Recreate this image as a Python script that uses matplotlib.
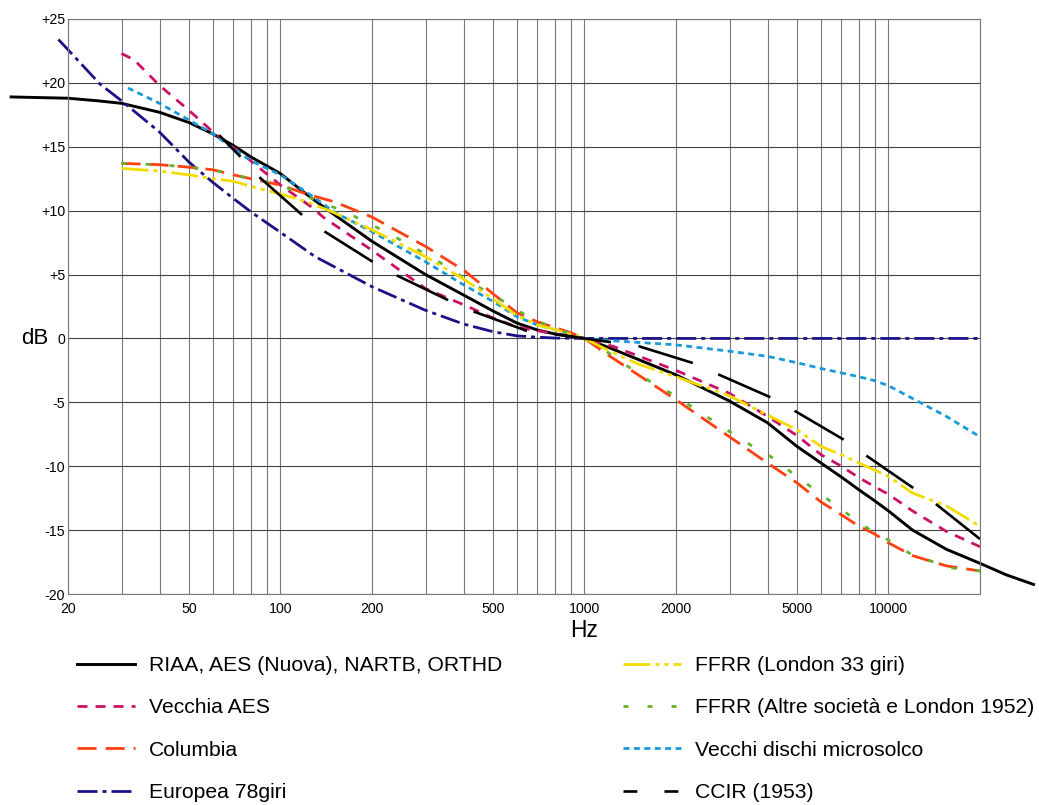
import matplotlib
matplotlib.use("Agg")
import matplotlib.pyplot as plt

# - - - - curve data (Hz, dB) - - - -
riaa_hz = [13, 20, 25, 30, 40, 50, 60, 70, 80, 100, 120, 144, 200, 300, 400, 500, 600, 700, 800, 900,
           1000, 1200, 2000, 3000, 4000, 5000, 6000, 7000, 8000, 9000, 10000, 12000, 15500, 20000, 24400, 30000]
riaa_db = [18.9, 18.8, 18.6, 18.4, 17.7, 16.9, 16.0, 15.1, 14.2, 12.9, 11.4, 10.0, 7.6, 5.0, 3.4, 2.15, 1.2, 0.66, 0.35, 0.2,
           0.0, -0.7, -2.85, -4.9, -6.6, -8.45, -9.75, -10.85, -11.85, -12.7, -13.5, -15.0, -16.5, -17.6, -18.5, -19.25]

vaes_hz = [30, 33, 40, 50, 60, 77, 100, 128, 138, 200, 300, 413, 500, 600, 700, 800, 900, 1000,
           1250, 2000, 3000, 4000, 5000, 6000, 7000, 8000, 9000, 10000, 12000, 15500, 20000]
vaes_db = [22.3, 21.8, 19.8, 17.85, 16.15, 14.2, 12.0, 10.2, 9.5, 6.9, 3.9, 2.5, 1.6, 0.9, 0.6, 0.35, 0.15, 0.0,
           -0.64, -2.5, -4.3, -6.1, -7.6, -9.1, -10.0, -10.9, -11.6, -12.2, -13.5, -15.1, -16.3]

col_hz = [30, 40, 50, 60, 70, 80, 100, 122, 150, 200, 300, 400, 500, 600, 700, 800, 900, 1000,
          1214, 2000, 3000, 4000, 5000, 6000, 7000, 8000, 9000, 10000, 12000, 15500, 20000]
col_db = [13.7, 13.6, 13.4, 13.2, 12.8, 12.5, 12.0, 11.3, 10.7, 9.5, 7.2, 5.35, 3.5, 2.0, 1.3, 0.85, 0.45, 0.0,
          -1.4, -4.8, -7.7, -9.75, -11.3, -12.8, -13.8, -14.7, -15.3, -16.0, -17.0, -17.8, -18.2]

eur_hz = [18.6, 25.5, 30, 40, 50, 60, 70, 80, 100, 130, 200, 300, 400, 500, 600, 700, 800, 1000, 20000]
eur_db = [23.4, 19.9, 18.6, 16.15, 13.8, 12.2, 10.95, 9.9, 8.3, 6.4, 4.05, 2.2, 1.13, 0.53, 0.2, 0.1, 0.03, 0.0, 0.0]

lon_hz = [30, 40, 50, 60, 70, 80, 100, 122, 148, 200, 300, 400, 500, 600, 700, 800, 1000,
          1214, 1500, 2000, 3000, 4000, 5000, 6000, 7000, 8000, 9000, 10000, 12000, 15500, 20000]
lon_db = [13.3, 13.1, 12.8, 12.5, 12.3, 11.9, 11.3, 10.7, 9.9, 8.5, 6.4, 4.65, 3.1, 1.8, 1.05, 0.7, 0.0,
          -1.0, -2.0, -3.0, -4.5, -6.0, -7.15, -8.45, -9.1, -9.75, -10.3, -10.8, -12.1, -13.1, -14.7]

alt_hz = [30, 40, 50, 60, 70, 80, 100, 120, 138, 167, 195, 228, 266, 310, 360, 420, 490, 570, 660, 800, 930, 1000,
          1100, 1470, 1700, 2000, 2300, 2650, 3050, 3550, 4200, 4800, 5550, 6450, 7400, 8600, 10200, 11700,
          13700, 16000, 20000]
alt_db = [13.7, 13.6, 13.4, 13.2, 12.8, 12.5, 12.0, 11.2, 10.6, 9.8, 9.0, 8.2, 7.3, 6.4, 5.5, 4.4, 3.5, 2.6, 1.6, 0.8, 0.27, 0.0,
          -0.5, -2.6, -3.6, -4.5, -5.5, -6.45, -7.4, -8.4, -9.4, -10.5, -11.6, -12.75, -13.8, -14.9, -15.9, -16.8,
          -17.4, -17.95, -18.2]

micro_hz = [31.5, 40, 50, 60, 80, 100, 128, 150, 200, 300, 400, 500, 600, 700, 800, 900, 1000,
            1214, 2000, 3000, 4000, 5000, 6000, 7000, 8000, 9000, 10000, 12000, 15500, 20000]
micro_db = [19.6, 18.4, 17.1, 16.0, 13.9, 12.8, 11.1, 9.9, 8.35, 6.0, 4.2, 2.9, 1.7, 1.05, 0.7, 0.4, 0.0,
            -0.17, -0.5, -1.0, -1.4, -1.9, -2.35, -2.7, -3.0, -3.3, -3.7, -4.7, -6.1, -7.7]

ccir_hz = [62.9, 74, 84.5, 117, 139, 201, 240, 356, 427, 645, 788, 940, 1000, 1505, 2285, 2730, 4150,
           4860, 7100, 8370, 12060, 14220, 20000]
ccir_db = [15.9, 14.2, 12.7, 9.73, 8.4, 6.0, 4.96, 3.0, 2.15, 0.6, 0.35, 0.1, 0.0, -0.6, -1.94, -2.77, -4.67,
           -5.6, -7.9, -9.1, -11.7, -12.9, -15.7]

labels = ["RIAA, AES (Nuova), NARTB, ORTHD", "Vecchia AES", "Columbia", "Europea 78giri",
          "FFRR (London 33 giri)", "FFRR (Altre società e London 1952)", "Vecchi dischi microsolco", "CCIR (1953)"]

grid_hz = [20, 30, 40, 50, 60, 70, 80, 90, 100, 200, 300, 400, 500, 600, 700, 800, 900,
           1000, 2000, 3000, 4000, 5000, 6000, 7000, 8000, 9000, 10000, 20000]
xtick_hz = [20, 50, 100, 200, 500, 1000, 2000, 5000, 10000]
ytick_db = [-20, -15, -10, -5, 0, 5, 10, 15, 20, 25]
ytick_lbl = ["-20", "-15", "-10", "-5", "0", "+5", "+10", "+15", "+20", "+25"]


def main():
    plt.rcParams['font.family'] = ['Liberation Sans', 'DejaVu Sans']
    plt.rcParams['lines.scale_dashes'] = False

    fig = plt.figure(figsize=(10.39, 8.05), dpi=100)
    ax = fig.add_axes([68/1039, 211/805, 912/1039, 575/805])
    ax.set_xscale('log')
    ax.set_xlim(20, 20000)
    ax.set_ylim(-20, 25)

    ax.set_xticks(grid_hz, minor=True)
    ax.set_xticks(xtick_hz)
    ax.set_xticklabels([str(f) for f in xtick_hz])
    ax.xaxis.set_minor_formatter(plt.NullFormatter())
    ax.set_yticks(ytick_db)
    ax.set_yticklabels(ytick_lbl)
    ax.tick_params(which='both', length=0, labelsize=10.2)
    ax.tick_params(axis='x', pad=6)
    ax.tick_params(axis='y', pad=2)
    ax.grid(True, axis='x', which='both', color='#777777', linewidth=0.8)
    ax.grid(True, axis='y', which='major', color='#444444', linewidth=0.8)
    ax.set_axisbelow(True)
    for s in ax.spines.values():
        s.set_color('#777777')
        s.set_linewidth(0.8)

    lw = 2.0
    l_riaa, = ax.plot(riaa_hz, riaa_db, color='black', lw=2.1, clip_on=False)
    l_eur, = ax.plot(eur_hz, eur_db, color='#1c1288', lw=lw, linestyle=(0, (14.4, 3.6, 2.9, 3.6)), clip_on=False)
    l_vaes, = ax.plot(vaes_hz, vaes_db, color='#cc1166', lw=lw, linestyle=(0, (7.2, 5.8)), clip_on=False)
    l_micro, = ax.plot(micro_hz, micro_db, color='#1a9ad8', lw=lw, linestyle=(0, (4.3, 3.2)), clip_on=False)
    l_col, = ax.plot(col_hz, col_db, color='#ff4010', lw=lw, linestyle=(0, (13.7, 6.5)), clip_on=False)
    l_alt, = ax.plot(alt_hz, alt_db, color='#66b030', lw=lw, linestyle=(0, (3.6, 13.7)), clip_on=False)
    l_lon, = ax.plot(lon_hz, lon_db, color='#f2dc00', lw=lw,
                     linestyle=(0, (19.4, 3.6, 2.9, 3.6, 2.9, 3.6)), clip_on=False)
    l_ccir, = ax.plot(ccir_hz, ccir_db, color='black', lw=1.9, linestyle=(19.2, (41.0, 20.0)), clip_on=False)

    ax.text(1000, -0.063, "Hz", transform=ax.get_xaxis_transform(), ha='center', va='center', fontsize=16.5)
    ax.text(-0.021, 0, "dB", transform=ax.get_yaxis_transform(), ha='right', va='center', fontsize=16)

    left = [l_riaa, l_vaes, l_col, l_eur]
    right = [l_lon, l_alt, l_micro, l_ccir]
    kw = dict(loc='upper left', frameon=False, fontsize=15.2, handlelength=2.75, handletextpad=0.65,
              labelspacing=1.11, borderpad=0, borderaxespad=0)
    fig.legend(left, labels[:4], bbox_to_anchor=(77/1039, 1 - 656/805), **kw)
    leg2 = fig.legend(right, labels[4:], bbox_to_anchor=(623/1039, 1 - 656/805), **kw)
    leg2.legend_handles[3].set_linestyle((0, (10.0, 19.5)))

    fig.savefig('out.png', dpi=100)


if __name__ == '__main__':
    main()
